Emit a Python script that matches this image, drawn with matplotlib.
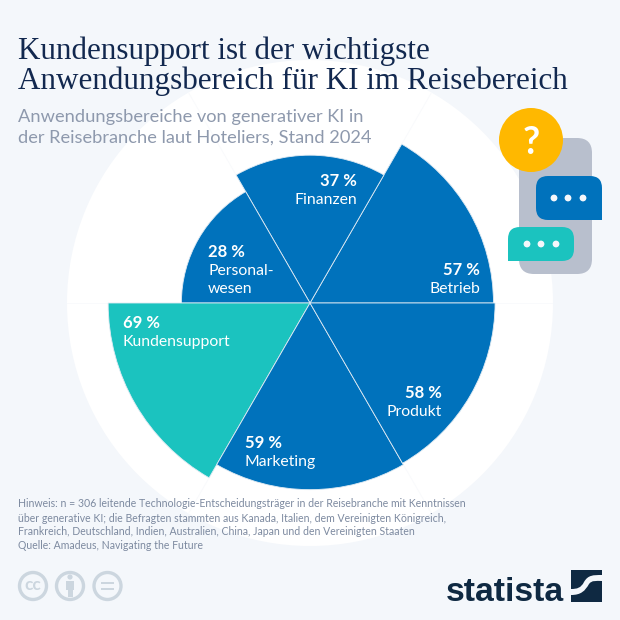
import numpy as np
import matplotlib
matplotlib.use("Agg")
import matplotlib.pyplot as plt
from matplotlib.patches import Circle, FancyBboxPatch, Rectangle, PathPatch
from matplotlib.path import Path

# data
categories = ["Betrieb", "Finanzen", "Personal-\nwesen", "Kundensupport", "Marketing", "Produkt"]
values = [57, 37, 28, 69, 59, 58]
sector_start = [0, 60, 120, 180, 240, 300]

title = "Kundensupport ist der wichtigste\nAnwendungsbereich für KI im Reisebereich"
subtitle = ["Anwendungsbereiche von generativer KI in", "der Reisebranche laut Hoteliers, Stand 2024"]
notes = [
    "Hinweis: n = 306 leitende Technologie-Entscheidungsträger in der Reisebranche mit Kenntnissen",
    "über generative KI; die Befragten stammten aus Kanada, Italien, dem Vereinigten Königreich,",
    "Frankreich, Deutschland, Indien, Australien, China, Japan und den Vereinigten Staaten",
    "Quelle: Amadeus, Navigating the Future",
]

BG = "#f4f7fb"
BLUE = "#0072bc"
TEAL = "#1bc3bf"
NAVY = "#12284f"
GREY = "#8e99ad"
W = 620

fig = plt.figure(figsize=(6.2, 6.2), dpi=100, facecolor=BG)

# polar chart, the radius is on a sqrt scale so area follows the value
cx, cy, R = 310, 303, 243
ax = fig.add_axes([(cx - R) / W, 1 - (cy + R) / W, 2 * R / W, 2 * R / W], projection="polar")
ax.set_rscale("function", functions=(np.sqrt, np.square))
ax.set_rlim(0, 100)
ax.set_facecolor("white")
ax.spines["polar"].set_visible(False)
ax.set_xticks(np.radians(sector_start))
ax.set_xticklabels([])
ax.set_yticks([])
ax.set_axisbelow(True)
ax.grid(axis="x", color="#f9fafc", lw=0.7)
colors = [TEAL if c == "Kundensupport" else BLUE for c in categories]
ax.bar(np.radians(sector_start), values, width=np.radians(60), bottom=0, align="edge",
       color=colors, edgecolor="#dfeaf3", linewidth=0.6)

# overlay in pixels for texts and icons
ov = fig.add_axes([0, 0, 1, 1], facecolor="none")
ov.set_xlim(0, W)
ov.set_ylim(W, 0)
ov.axis("off")

lines = title.split("\n")
ov.text(18, 59, lines[0], family="Liberation Serif", fontsize=22.4, color=NAVY, va="baseline")
ov.text(18, 89, lines[1], family="Liberation Serif", fontsize=22.4, color=NAVY, va="baseline")
ov.text(18, 122, subtitle[0], family="Lato", fontsize=13.15, color=GREY, va="baseline")
ov.text(18, 143, subtitle[1], family="Lato", fontsize=13.15, color=GREY, va="baseline")

# value labels: x, first baseline, alignment
label_pos = {
    "Betrieb": (480, 275, "right"),
    "Finanzen": (357, 186, "right"),
    "Personal-\nwesen": (208, 257, "left"),
    "Kundensupport": (123, 328, "left"),
    "Marketing": (245, 448, "left"),
    "Produkt": (442, 398, "right"),
}
for cat, val in zip(categories, values):
    x, y, ha = label_pos[cat]
    ov.text(x, y, f"{val} %", family="Lato", fontweight="bold", fontsize=12, color="white", ha=ha, va="baseline")
    for i, part in enumerate(cat.split("\n")):
        ov.text(x, y + 18 * (i + 1), part, family="Lato", fontsize=11.3, color="white", ha=ha, va="baseline")

# chat icon
ov.add_patch(FancyBboxPatch((534, 153), 43, 106, boxstyle="round,pad=15,rounding_size=15", fc="#b8bfcd", ec="none"))
ov.add_patch(Circle((531, 140), 32, fc="#ffb800", ec="none"))
ov.text(531, 154, "?", family="Lato", fontweight="bold", fontsize=27, color="white", ha="center", va="baseline")
ov.add_patch(FancyBboxPatch((548, 188), 42, 20, boxstyle="round,pad=12,rounding_size=12", fc=BLUE, ec="none"))
ov.add_patch(Rectangle((585, 203), 17, 17, fc=BLUE, ec="none"))
ov.add_patch(FancyBboxPatch((520, 239), 42, 10, boxstyle="round,pad=12,rounding_size=12", fc=TEAL, ec="none"))
ov.add_patch(Rectangle((508, 244), 17, 17, fc=TEAL, ec="none"))
for dx in (554, 568, 583):
    ov.add_patch(Circle((dx, 198), 3.4, fc=BG, ec="none"))
for dx in (527, 541, 556):
    ov.add_patch(Circle((dx, 244), 3.4, fc=BG, ec="none"))

# notes
for note, y in zip(notes, (507, 522, 535, 549)):
    ov.text(18, y, note, family="Lato", fontsize=7.6, color="#7d8aa0", va="baseline")

# licence icons
ICON = "#ccd6df"
for x in (33, 70, 107.5):
    ov.add_patch(Circle((x, 586), 13.5, fc="none", ec=ICON, lw=2.4))
ov.text(33, 590.5, "cc", family="Lato", fontweight="bold", fontsize=12.5, color=ICON, ha="center", va="baseline")
ov.add_patch(Circle((70, 577), 2.6, fc=ICON, ec="none"))
ov.add_patch(Rectangle((66, 581), 8, 9, fc=ICON, ec="none"))
ov.add_patch(Rectangle((67.5, 589), 5, 8, fc=ICON, ec="none"))
ov.add_patch(Rectangle((101, 581.5), 13, 2.6, fc=ICON, ec="none"))
ov.add_patch(Rectangle((101, 587.5), 13, 2.6, fc=ICON, ec="none"))

# logo
LOGO = "#0f2942"
ov.text(446, 601, "statista", family="Liberation Sans", fontweight="bold",
        fontsize=24.3, color=LOGO, va="baseline")
ov.add_patch(Rectangle((571, 570), 31, 32, fc=LOGO, ec="none"))
swoosh = Path(
    [(571, 595), (581, 595), (585, 591), (589, 584), (592, 580), (596, 581), (602, 581),
     (602, 575), (593, 575), (588, 575), (584, 582), (581, 588), (577, 589), (571, 589), (571, 595)],
    [Path.MOVETO, Path.CURVE4, Path.CURVE4, Path.CURVE4, Path.CURVE4, Path.CURVE4, Path.CURVE4,
     Path.LINETO, Path.CURVE4, Path.CURVE4, Path.CURVE4, Path.CURVE4, Path.CURVE4, Path.CURVE4, Path.CLOSEPOLY],
)
ov.add_patch(PathPatch(swoosh, fc=BG, ec="none"))

fig.savefig("out.png", dpi=100, facecolor=BG)
